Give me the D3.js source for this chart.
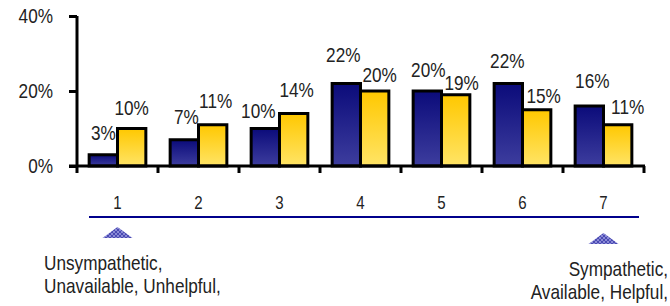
<!DOCTYPE html>
<html><head><meta charset="utf-8">
<script src="https://cdn.jsdelivr.net/npm/d3@7"></script>
<style>
body{margin:0;background:#fff;}
text{font-family:'Liberation Sans',Arial,sans-serif;fill:#222;}
</style></head>
<body><svg id="c" width="670" height="306"></svg>
<script>
const categories = ["1","2","3","4","5","6","7"];
const seriesNames = ["A","B"];
const seriesA = [3,7,10,22,20,22,16];
const seriesB = [10,11,14,20,19,15,11];
const yTicks = [0,20,40];
const leftLabel = ["Unsympathetic,","Unavailable, Unhelpful,"];
const rightLabel = ["Sympathetic,","Available, Helpful,"];
// label placement nudges (layout only)
const liftA = [15,16,11,22,14,16,18];
const liftB = [14,17,17,9,5,7,11];
const nudgeA = [0,2,-7,-3,1,-1,3];
const nudgeB = [0,3,3,5,6,7,10];

const SX = 0.86;
function narrow(sel){
  sel.each(function(){
    const t = d3.select(this);
    const x = +t.attr("x")||0, y = +t.attr("y")||0;
    t.attr("x",0).attr("y",0).attr("transform",`translate(${x},${y}) scale(${SX},1)`);
  });
}

const svg = d3.select("#c");
const defs = svg.append("defs");
const gA = defs.append("linearGradient").attr("id","gA").attr("x1",0).attr("y1",0).attr("x2",0).attr("y2",1);
gA.append("stop").attr("offset","0%").attr("stop-color","#0b0b7a");
gA.append("stop").attr("offset","100%").attr("stop-color","#3d3d9e");
const gB = defs.append("linearGradient").attr("id","gB").attr("x1",0).attr("y1",0).attr("x2",0).attr("y2",1);
gB.append("stop").attr("offset","0%").attr("stop-color","#ffc800");
gB.append("stop").attr("offset","100%").attr("stop-color","#ffe466");
const pat = defs.append("pattern").attr("id","hatch").attr("patternUnits","userSpaceOnUse").attr("width",4).attr("height",4);
pat.append("rect").attr("width",4).attr("height",4).attr("fill","#8a8ad6");
pat.append("path").attr("d","M0,0L4,4M4,0L0,4").attr("stroke","#3a3aa8").attr("stroke-width",0.8);

const x0 = d3.scaleBand().domain(categories).range([77,644]).paddingInner(0.3).paddingOuter(0.15);
const x1 = d3.scaleBand().domain(seriesNames).range([0,x0.bandwidth()]);
const y = d3.scaleLinear().domain([0,40]).range([166,16]);
const xs = d3.scalePoint().domain(categories).range([x0("1")+x0.bandwidth()/2, x0("7")+x0.bandwidth()/2]);

const data = categories.map((c,i)=>({c, vals:[
  {s:"A",v:seriesA[i],lift:liftA[i],dx:nudgeA[i]},
  {s:"B",v:seriesB[i],lift:liftB[i],dx:nudgeB[i]}]}));

const groups = svg.append("g").selectAll("g").data(data).join("g")
  .attr("transform",d=>`translate(${x0(d.c)},0)`);
groups.selectAll("rect").data(d=>d.vals).join("rect")
  .attr("x",d=>x1(d.s)).attr("width",x1.bandwidth())
  .attr("y",d=>y(d.v)).attr("height",d=>y(0)-y(d.v))
  .attr("fill",d=>d.s==="A"?"url(#gA)":"url(#gB)")
  .attr("stroke","#000").attr("stroke-width",3);
groups.selectAll("text").data(d=>d.vals).join("text")
  .attr("x",d=>x1(d.s)+x1.bandwidth()/2+d.dx).attr("y",d=>y(d.v)-d.lift)
  .attr("text-anchor","middle").style("font-size","20px")
  .text(d=>d.v+"%").call(narrow);

// y axis
const yAxis = d3.axisLeft(y).tickValues(yTicks).tickFormat(d=>d+"%").tickSize(8).tickPadding(16);
const ya = svg.append("g").attr("transform","translate(77,0)").call(yAxis);
ya.select(".domain").attr("stroke","#000").attr("stroke-width",3).attr("d","M0,16V173");
ya.selectAll(".tick line").attr("stroke","#000").attr("stroke-width",3);
ya.selectAll(".tick text").attr("dy",null).attr("dominant-baseline","central").style("font-size","20px").attr("fill","#222")
  .style("font-family","'Liberation Sans',Arial,sans-serif").call(narrow);

// x baseline with ticks at band edges
const xa = svg.append("g");
xa.append("line").attr("x1",69).attr("x2",645).attr("y1",y(0)).attr("y2",y(0)).attr("stroke","#000").attr("stroke-width",3);
const edges = categories.map(c=>x0(c)-x0.step()*x0.paddingInner()/2).concat([x0("7")+x0.bandwidth()+x0.step()*x0.paddingInner()/2]);
xa.selectAll("line.t").data(edges.slice(1)).join("line").attr("class","t")
  .attr("x1",d=>d).attr("x2",d=>d).attr("y1",y(0)).attr("y2",y(0)+7).attr("stroke","#000").attr("stroke-width",3);

// scale numbers
svg.append("g").selectAll("text").data(categories).join("text")
  .attr("x",d=>xs(d)).attr("y",209).attr("text-anchor","middle").style("font-size","17.5px").text(d=>d).call(narrow);
svg.append("line").attr("x1",89).attr("x2",639).attr("y1",217).attr("y2",217).attr("stroke","#00008c").attr("stroke-width",2.2);

// triangles
const tri = [{c:"1",top:227},{c:"7",top:233}];
svg.append("g").selectAll("path").data(tri).join("path")
  .attr("d",d=>{const cx=xs(d.c);return `M${cx},${d.top}L${cx+15},${d.top+11}L${cx-15},${d.top+11}Z`;})
  .attr("fill","url(#hatch)");

// end labels
svg.append("g").selectAll("text").data(leftLabel).join("text")
  .attr("x",44).attr("y",(d,i)=>270+i*23).style("font-size","20px").text(d=>d).call(narrow);
svg.append("g").selectAll("text").data(rightLabel).join("text")
  .attr("x",668).attr("y",(d,i)=>276+i*23).attr("text-anchor","end").style("font-size","20px").text(d=>d).call(narrow);
</script></body></html>
